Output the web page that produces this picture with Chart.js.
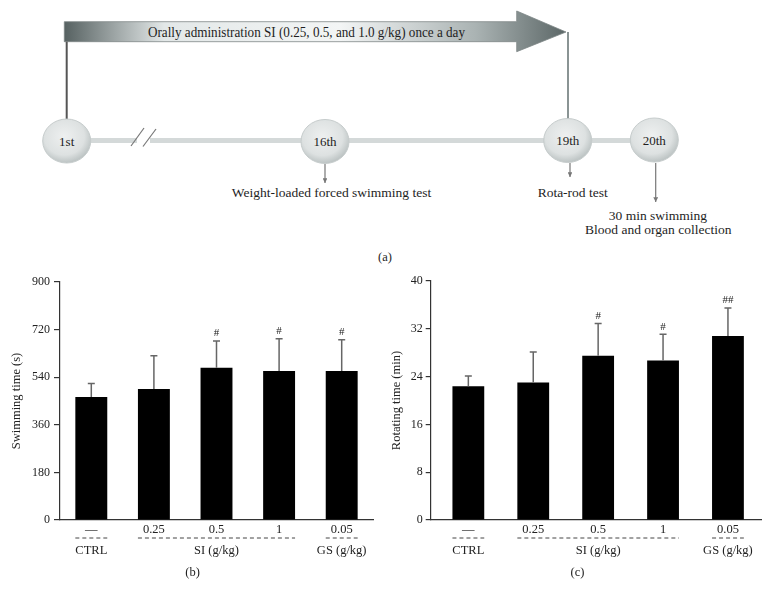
<!DOCTYPE html>
<html>
<head>
<meta charset="utf-8">
<script src="https://cdn.jsdelivr.net/npm/chart.js@4"></script>
<style>
  html, body { margin:0; padding:0; background:#fff; }
  #wrap { position:relative; width:770px; height:603px; overflow:hidden; }
  #timeline { position:absolute; left:0; top:0; }
  .panel { position:absolute; top:270px; width:385px; height:333px; }
  #pB { left:0; }
  #pC { left:385px; }
</style>
</head>
<body>
<div id="wrap">
  <svg id="timeline" width="770" height="270" font-family="'Liberation Serif','DejaVu Serif',serif" fill="#1e1e1e">
    <defs>
      <linearGradient id="band" gradientUnits="userSpaceOnUse" x1="64" y1="0" x2="566" y2="0">
        <stop offset="0" stop-color="#566161"/>
        <stop offset="0.2" stop-color="#e3e8e8"/>
        <stop offset="0.55" stop-color="#f3f5f5"/>
        <stop offset="0.82" stop-color="#aab3b3"/>
        <stop offset="1" stop-color="#5c6767"/>
      </linearGradient>
      <radialGradient id="dot" cx="0.45" cy="0.4" r="0.6">
        <stop offset="0" stop-color="#eef0f0"/>
        <stop offset="0.7" stop-color="#dde1e1"/>
        <stop offset="1" stop-color="#bcc3c3"/>
      </radialGradient>
      <marker id="ah" viewBox="0 0 6 6" refX="6" refY="3" markerWidth="4" markerHeight="4" orient="auto">
        <path d="M0,0 L6,3 L0,6 Z" fill="#777"/>
      </marker>
    </defs>
    <!-- timeline bar -->
    <line x1="66" y1="140.5" x2="654" y2="140.5" stroke="#d4d9d9" stroke-width="5"/>
    <line x1="137" y1="140.5" x2="150" y2="140.5" stroke="#fff" stroke-width="7"/>
    <line x1="131" y1="146" x2="144" y2="128" stroke="#777" stroke-width="1.2"/>
    <line x1="143" y1="146.5" x2="156" y2="129" stroke="#777" stroke-width="1.2"/>
    <!-- arrow band -->
    <polygon points="64.3,21.7 516.7,21.7 516.7,11 566,32 516.7,51.7 516.7,41.7 64.3,41.7" fill="url(#band)" stroke="#7d8787" stroke-width="0.8"/>
    <text x="148" y="36.5" font-size="14" textLength="317" lengthAdjust="spacingAndGlyphs">Orally administration SI (0.25, 0.5, and 1.0 g/kg) once a day</text>
    <line x1="66.7" y1="41.7" x2="66.7" y2="120" stroke="#555" stroke-width="2"/>
    <line x1="568" y1="32" x2="568" y2="120" stroke="#8a9494" stroke-width="2"/>
    <!-- day markers -->
    <g fill="url(#dot)" stroke="#c6cccc" stroke-width="1">
      <ellipse cx="66.7" cy="141" rx="24" ry="22"/>
      <ellipse cx="325" cy="141.5" rx="24" ry="22"/>
      <ellipse cx="567.7" cy="140.5" rx="24" ry="22"/>
      <ellipse cx="654.3" cy="140" rx="24" ry="22"/>
    </g>
    <g font-size="13" text-anchor="middle">
      <text x="66.7" y="145.5">1st</text>
      <text x="325" y="146">16th</text>
      <text x="567.7" y="145">19th</text>
      <text x="654.3" y="144.5">20th</text>
    </g>
    <!-- events -->
    <line x1="325" y1="164" x2="325" y2="183" stroke="#777" stroke-width="1.2" marker-end="url(#ah)"/>
    <line x1="570" y1="163" x2="570" y2="177" stroke="#777" stroke-width="1.2" marker-end="url(#ah)"/>
    <line x1="655.7" y1="163" x2="655.7" y2="202" stroke="#777" stroke-width="1.2" marker-end="url(#ah)"/>
    <g font-size="13.5" text-anchor="middle">
      <text x="331.5" y="196.5">Weight-loaded forced swimming test</text>
      <text x="572.7" y="196.5">Rota-rod test</text>
      <text x="658" y="220">30 min swimming</text>
      <text x="658.3" y="234">Blood and organ collection</text>
      <text x="385" y="261" font-size="12.5">(a)</text>
    </g>
  </svg>
  <div class="panel" id="pB"><canvas id="cB" width="385" height="333"></canvas></div>
  <div class="panel" id="pC"><canvas id="cC" width="385" height="333"></canvas></div>
</div>
<script>
// categories (x tick labels) and group labels under the dashed lines
const categories = ['—', '0.25', '0.5', '1', '0.05'];
const groupLabels = ['CTRL', 'SI (g/kg)', 'GS (g/kg)'];
const groupStart  = [0, 1, 4];
const groupEnd    = [0, 3, 4];

// (b) weight-loaded forced swimming
const swimMean = [465, 495, 576, 563, 563];
const swimSD   = [51, 126, 101, 122, 119];
const swimSig  = ['', '', '#', '#', '#'];
const swimTicks = [0, 180, 360, 540, 720, 900];

// (c) rota-rod
const rotMean = [22.4, 23.0, 27.5, 26.7, 30.8];
const rotSD   = [1.7, 5.1, 5.4, 4.4, 4.7];
const rotSig  = ['', '', '#', '#', '##'];
const rotTicks = [0, 8, 16, 24, 32, 40];

const SERIF = "'Liberation Serif','DejaVu Serif',serif";
const INK = '#222';

// error bars, significance marks, group dashes and panel label
const extras = {
  id: 'extras',
  afterDatasetsDraw(chart, args, o) {
    const ctx = chart.ctx, x = chart.scales.x, y = chart.scales.y;
    const bars = chart.getDatasetMeta(0).data;
    ctx.save();
    o.mean.forEach((m, i) => {
      const cx = x.getPixelForValue(i);
      const y0 = y.getPixelForValue(m), y1 = y.getPixelForValue(m + o.sd[i]);
      ctx.strokeStyle = '#666'; ctx.lineWidth = 1.5;
      ctx.beginPath();
      ctx.moveTo(cx, y0); ctx.lineTo(cx, y1);
      ctx.moveTo(cx - 3.5, y1); ctx.lineTo(cx + 3.5, y1);
      ctx.stroke();
      if (o.sig[i]) {
        ctx.fillStyle = INK; ctx.font = '11px ' + SERIF;
        ctx.textAlign = 'center'; ctx.textBaseline = 'alphabetic';
        ctx.fillText(o.sig[i], cx, y1 - 4.5);
      }
    });
    const base = y.bottom;
    ctx.strokeStyle = '#444'; ctx.lineWidth = 1; ctx.setLineDash([4, 3]);
    ctx.fillStyle = INK; ctx.font = '12.5px ' + SERIF;
    ctx.textAlign = 'center'; ctx.textBaseline = 'middle';
    groupLabels.forEach((g, k) => {
      const a = bars[groupStart[k]], b = bars[groupEnd[k]];
      const l = a.x - a.width / 2, r = b.x + b.width / 2;
      ctx.beginPath(); ctx.moveTo(l, base + 18); ctx.lineTo(r, base + 18); ctx.stroke();
      ctx.fillText(g, (l + r) / 2, base + 31);
    });
    ctx.fillText(o.panel, chart.width / 2, base + 53);
    ctx.restore();
  }
};

function panel(id, mean, sd, sig, ticks, title, p) {
  new Chart(document.getElementById(id), {
    type: 'bar',
    data: {
      datasets: [{
        data: mean.map((v, i) => ({ x: i, y: v })),
        backgroundColor: '#000', borderWidth: 0,
        barPercentage: p.barPct, categoryPercentage: 1
      }]
    },
    options: {
      responsive: false, animation: false,
      layout: { padding: { top: p.top, right: p.right, left: 0, bottom: 0 } },
      plugins: { legend: { display: false }, tooltip: { enabled: false },
                 extras: { mean, sd, sig, panel: p.panel } },
      scales: {
        x: {
          type: 'linear', min: p.xMin, max: p.xMax, offset: false,
          afterBuildTicks: s => { s.ticks = categories.map((c, i) => ({ value: i })); },
          afterFit: s => { s.height = 83; },
          grid: { display: false, drawTicks: false },
          border: { display: true, color: '#333', width: 1.2 },
          ticks: { callback: v => categories[v], autoSkip: false, maxRotation: 0,
                   padding: 2, color: INK, font: { family: SERIF, size: 12.5 } }
        },
        y: {
          min: ticks[0], max: ticks[ticks.length - 1],
          afterBuildTicks: s => { s.ticks = ticks.map(v => ({ value: v })); },
          afterFit: s => { s.width = p.yWidth; },
          grid: { drawOnChartArea: false, tickLength: p.tickLen, color: '#333', lineWidth: 1.2 },
          border: { display: true, color: '#333', width: 1.2 },
          ticks: { padding: p.tickPad, color: INK, font: { family: SERIF, size: 12 } },
          title: { display: true, text: title, color: INK, padding: { top: p.titlePad, bottom: 0 },
                   font: { family: SERIF, size: 12.5 } }
        }
      }
    },
    plugins: [extras]
  });
}

panel('cB', swimMean, swimSD, swimSig, swimTicks, 'Swimming time (s)',
  { panel: '(b)', top: 12, right: 12, yWidth: 60, xMin: -0.5, xMax: 4.5, barPct: 0.51, tickLen: 6, tickPad: 4, titlePad: 9 });
panel('cC', rotMean, rotSD, rotSig, rotTicks, 'Rotating time (min)',
  { panel: '(c)', top: 11, right: 8.3, yWidth: 45.7, xMin: -0.58, xMax: 4.52, barPct: 0.49, tickLen: 5, tickPad: 3, titlePad: 4.5 });
</script>
</body>
</html>
